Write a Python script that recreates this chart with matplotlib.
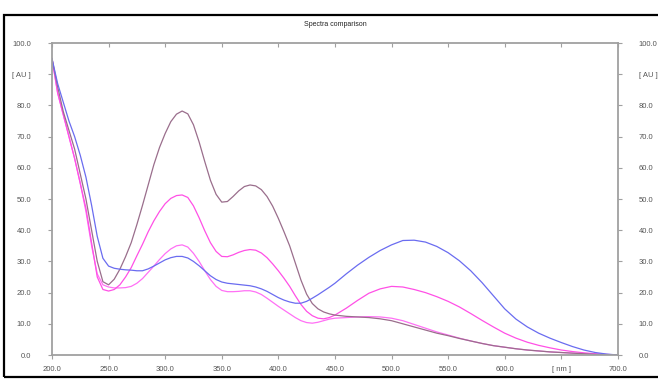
import matplotlib
matplotlib.use("Agg")
import matplotlib.pyplot as plt
from matplotlib.patches import Rectangle

# Wavelength grid [nm]: 5 nm steps up to 450, then 10 nm steps
wavelength = [200, 205, 210, 215, 220, 225, 230, 235, 240, 245,
              250, 255, 260, 265, 270, 275, 280, 285, 290, 295,
              300, 305, 310, 315, 320, 325, 330, 335, 340, 345,
              350, 355, 360, 365, 370, 375, 380, 385, 390, 395,
              400, 405, 410, 415, 420, 425, 430, 435, 440, 445,
              450, 460, 470, 480, 490, 500, 510, 520, 530, 540,
              550, 560, 570, 580, 590, 600, 610, 620, 630, 640,
              650, 660, 670, 680, 690, 700]

# Absorbance [AU]
blue = [95, 87, 81, 75, 70, 64, 57, 48, 38, 31,
        28.5, 27.8, 27.5, 27.3, 27.2, 27.0, 27.0, 27.6, 28.5, 29.5,
        30.5, 31.2, 31.6, 31.6, 31.1, 30, 28.6, 27, 25.4, 24.2,
        23.4, 23, 22.8, 22.6, 22.4, 22.2, 21.8, 21.2, 20.4, 19.4,
        18.4, 17.6, 17, 16.6, 16.6, 17.2, 18.2, 19.3, 20.5, 21.7,
        23, 26, 28.8, 31.3, 33.5, 35.3, 36.7, 36.8, 36.2, 34.8,
        32.8, 30.2, 27, 23.2, 19, 14.8, 11.5, 9, 7, 5.4,
        4.0, 2.7, 1.6, 0.8, 0.3, 0]

brown = [95, 86, 78, 72, 66, 58, 50, 40, 30, 23.5,
         22.5, 24.3, 27.5, 31.5, 36, 41.8, 48, 54.5, 61, 66.5,
         71, 74.8, 77.2, 78.2, 77.3, 73.8, 68.3, 62, 56, 51.5,
         49, 49.2, 50.8, 52.6, 54, 54.5, 54.2, 53, 50.8, 47.7,
         43.8, 39.5, 35, 29.5, 24, 19.5, 16.5, 14.8, 13.8, 13.2,
         12.8, 12.4, 12.2, 12, 11.6, 11, 10, 9, 8, 7,
         6.2, 5.3, 4.5, 3.7, 3, 2.5, 2, 1.6, 1.3, 1,
         0.8, 0.6, 0.4, 0.2, 0.1, 0]

magenta = [95, 84, 77, 70, 63, 55, 47, 36, 25, 21,
           20.5, 21, 22.5, 25, 28, 31.8, 35.5, 39.5, 43, 46,
           48.5, 50.2, 51.1, 51.3, 50.5, 47.8, 44, 39.8, 36, 33.2,
           31.6, 31.5, 32.1, 32.9, 33.5, 33.8, 33.6, 32.7, 31.2, 29.2,
           27, 24.6, 22, 19, 16.2, 14, 12.6, 11.8, 11.6, 12,
           12.8, 15, 17.5, 19.8, 21.2, 22, 21.8, 21, 20, 18.7,
           17.2, 15.4, 13.3, 11.1, 9, 7, 5.4, 4.1, 3.1, 2.3,
           1.6, 1.1, 0.7, 0.4, 0.2, 0]

pink = [95, 84, 77, 70, 63, 55, 46, 35, 26, 22.5,
        21.8, 21.5, 21.5, 21.6, 22, 23, 24.5, 26.5, 28.5, 30.6,
        32.5, 34, 35, 35.3, 34.6, 32.6, 30, 27, 24.2, 22,
        20.7, 20.3, 20.3, 20.4, 20.6, 20.6, 20.2, 19.4, 18.2, 16.9,
        15.6, 14.4, 13.2, 12, 11, 10.4, 10.2, 10.5, 11, 11.5,
        11.8, 12, 12.2, 12.3, 12.2, 11.8, 11, 9.8, 8.6, 7.4,
        6.4, 5.4, 4.5, 3.7, 3, 2.5, 2, 1.6, 1.3, 1,
        0.8, 0.6, 0.4, 0.25, 0.1, 0]

x_ticks = [200, 250, 300, 350, 400, 450, 500, 550, 600, 650, 700]
x_labels = ["200.0", "250.0", "300.0", "350.0", "400.0", "450.0", "500.0",
            "550.0", "600.0", "[ nm ]", "700.0"]
y_ticks = [0, 10, 20, 30, 40, 50, 60, 70, 80, 90, 100]
y_labels = ["0.0", "10.0", "20.0", "30.0", "40.0", "50.0", "60.0", "70.0",
            "80.0", "[ AU ]", "100.0"]

plt.rcParams['font.family'] = ['Liberation Sans', 'DejaVu Sans']

fig = plt.figure(figsize=(6.58, 3.79), dpi=100)
ax = fig.add_axes([0.079, 0.0633, 0.860, 0.8232])

ax.plot(wavelength, pink, color='#ff70f5', lw=0.9)
ax.plot(wavelength, magenta, color='#ff50e6', lw=0.9)
ax.plot(wavelength, brown, color='#9a6e8c', lw=0.9)
ax.plot(wavelength, blue, color='#6a6cf0', lw=0.9)

ax.set_xlim(200, 700)
ax.set_ylim(0, 100)

grey = '#a0a0a0'
for s in ax.spines.values():
    s.set_color(grey)
    s.set_linewidth(1.3)

ax.set_xticks(x_ticks)
ax.set_xticklabels(x_labels)
ax.set_yticks(y_ticks)
ax.set_yticklabels(y_labels)
ax.tick_params(axis='both', colors=grey, labelcolor='#555555', labelsize=5.5,
               length=3, width=0.8, direction='out')
ax.tick_params(axis='y', left=True, right=True, labelleft=True,
               labelright=True, pad=12)
ax.tick_params(axis='x', top=True, bottom=True, labeltop=False, pad=5)
for t in ax.xaxis.get_major_ticks():
    t.tick2line.set_marker(3)

ax.set_title('Spectra comparison', fontsize=5, color='#222222', pad=12)

# outer black frame
fig.patches.append(Rectangle((0.006, 0.006), 1.2, 0.954,
                             transform=fig.transFigure, fill=False,
                             edgecolor='black', lw=1.6, clip_on=False))

fig.savefig('out.png', dpi=100)
